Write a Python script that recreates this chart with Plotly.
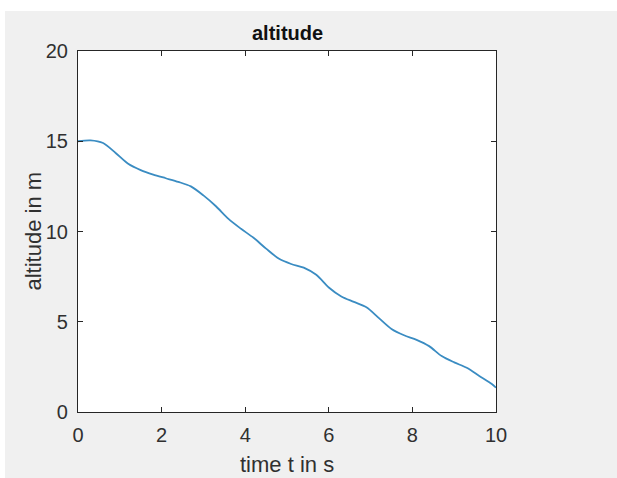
import plotly.graph_objects as go

# data
time_s = [0, 0.3, 0.6, 0.9, 1.2, 1.5, 1.8, 2.1, 2.4, 2.7, 3.0, 3.3, 3.6, 3.9,
          4.2, 4.5, 4.8, 5.1, 5.4, 5.7, 6.0, 6.3, 6.6, 6.9, 7.2, 7.5, 7.8,
          8.1, 8.4, 8.7, 9.0, 9.3, 9.6, 9.9, 10.0]
altitude_m = [15.0, 15.05, 14.9, 14.35, 13.75, 13.4, 13.15, 12.95, 12.75, 12.5,
              12.0, 11.4, 10.7, 10.15, 9.65, 9.05, 8.5, 8.2, 8.0, 7.6, 6.9,
              6.4, 6.1, 5.8, 5.2, 4.6, 4.25, 4.0, 3.65, 3.1, 2.75, 2.45,
              2.0, 1.55, 1.35]
x_ticks = [0, 2, 4, 6, 8, 10]
y_ticks = [0, 5, 10, 15, 20]

W, H = 617, 478
L, R, T, B = 78, 121, 51, 66
pw, ph = W - L - R, H - T - B
FONT = "Liberation Sans, Arial, Helvetica, sans-serif"
TXT = "#303030"

fig = go.Figure()
fig.add_trace(go.Scatter(x=time_s, y=altitude_m, mode="lines",
                         line=dict(color="#3a8cc2", width=1.8, shape="spline", smoothing=0.8),
                         hoverinfo="skip", showlegend=False))

axis_common = dict(showline=True, linecolor="#262626", linewidth=1.2, mirror="ticks",
                   ticks="inside", ticklen=5, tickcolor="#262626", tickwidth=1,
                   showgrid=False, zeroline=False,
                   tickfont=dict(family=FONT, size=20, color=TXT))
fig.update_xaxes(range=[0, 10], tickvals=x_ticks, ticklabelstandoff=5, **axis_common)
fig.update_yaxes(range=[0, 20], tickvals=y_ticks, ticklabelstandoff=5, **axis_common)

# white strips at top and left edge of the screenshot
fig.add_shape(type="rect", xref="paper", yref="paper",
              x0=-L / pw, x1=1 + R / pw, y0=1 + (T - 11) / ph, y1=1 + T / ph,
              fillcolor="white", line_width=0, layer="below")
fig.add_shape(type="rect", xref="paper", yref="paper",
              x0=-L / pw, x1=-(L - 5) / pw, y0=-B / ph, y1=1 + T / ph,
              fillcolor="white", line_width=0, layer="below")

fig.add_annotation(text="<b>altitude</b>", xref="paper", yref="paper",
                   x=0.5, y=1 + (T - 33) / ph, xanchor="center", yanchor="middle",
                   showarrow=False, font=dict(family=FONT, size=20, color="#111111"))
fig.add_annotation(text="time t in s", xref="paper", yref="paper",
                   x=0.5, y=-(464 - (T + ph)) / ph, xanchor="center", yanchor="middle",
                   showarrow=False, font=dict(family=FONT, size=22, color=TXT))
fig.add_annotation(text="altitude in m", xref="paper", yref="paper",
                   x=-(L - 33) / pw, y=0.5, xanchor="center", yanchor="middle",
                   textangle=-90, showarrow=False, font=dict(family=FONT, size=22, color=TXT))

fig.update_layout(width=W, height=H, margin=dict(l=L, r=R, t=T, b=B, pad=0),
                  paper_bgcolor="#f0f0f0", plot_bgcolor="white")
fig.write_html("out.html")
